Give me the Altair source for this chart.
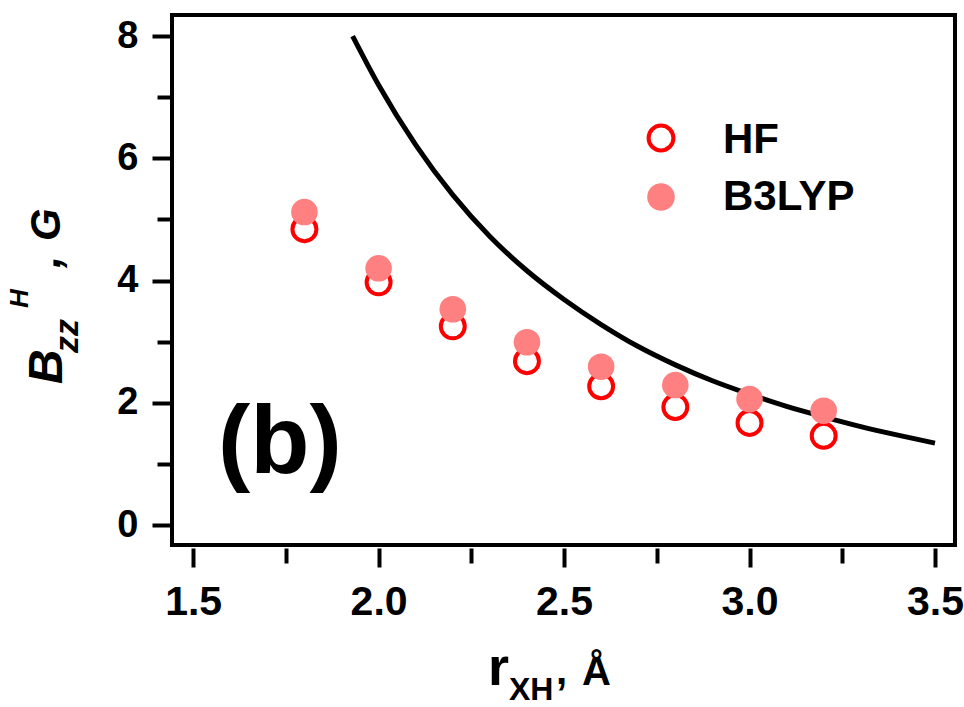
import altair as alt
import pandas as pd

# ---- data ----
r_points = [1.8, 2.0, 2.2, 2.4, 2.6, 2.8, 3.0, 3.2]
hf_values = [4.84, 3.97, 3.25, 2.68, 2.27, 1.93, 1.67, 1.46]
b3lyp_values = [5.12, 4.20, 3.53, 2.99, 2.59, 2.29, 2.06, 1.87]

curve_r = [1.93, 2.0, 2.1, 2.2, 2.3, 2.4, 2.5, 2.6, 2.7, 2.8, 2.9, 3.0, 3.1, 3.2, 3.3, 3.4, 3.5]
curve_b = [8.0, 7.2, 6.22, 5.4, 4.72, 4.16, 3.69, 3.28, 2.92, 2.62, 2.36, 2.14, 1.94, 1.77, 1.61, 1.47, 1.34]

x_ticks = [1.5, 1.75, 2.0, 2.25, 2.5, 2.75, 3.0, 3.25, 3.5]
y_ticks = [0, 1, 2, 3, 4, 5, 6, 7, 8]
series_names = ["HF", "B3LYP"]

W, H = 783, 530
SANS = "Liberation Sans"

hf_df = pd.DataFrame({"r": r_points, "B": hf_values})
b3_df = pd.DataFrame({"r": r_points, "B": b3lyp_values})
curve_df = pd.DataFrame({"r": curve_r, "B": curve_b})

x_scale = alt.Scale(domain=[1.443, 3.554], nice=False, zero=False)
y_scale = alt.Scale(domain=[-0.327, 8.344], nice=False, zero=False)

x_axis = alt.Axis(
    values=x_ticks,
    title="",
    domain=False,
    grid=False,
    offset=3,
    tickColor="black",
    tickWidth=4,
    tickSize={"condition": {"test": "abs(datum.value * 2 - round(datum.value * 2)) > 0.01", "value": 15}, "value": 19},
    labelExpr="abs(datum.value * 2 - round(datum.value * 2)) < 0.01 ? format(datum.value, '.1f') : ''",
    labelFont=SANS,
    labelFontSize=41,
    labelFontWeight="bold",
    labelColor="black",
    labelPadding=15,
    labelFlush=False,
    labelOverlap=False,
)
y_axis = alt.Axis(
    values=y_ticks,
    title="",
    domain=False,
    grid=False,
    tickColor="black",
    tickWidth=4,
    tickSize={"condition": {"test": "datum.value % 2 !== 0", "value": 15}, "value": 20},
    labelExpr="datum.value % 2 === 0 ? format(datum.value, 'd') : ''",
    labelFont=SANS,
    labelFontSize=38,
    labelFontWeight="bold",
    labelColor="black",
    labelPadding=14,
    labelFlush=False,
    labelOverlap=False,
)

curve = alt.Chart(curve_df).mark_line(color="black", strokeWidth=5, interpolate="monotone", clip=True).encode(
    x=alt.X("r:Q", scale=x_scale, axis=x_axis),
    y=alt.Y("B:Q", scale=y_scale, axis=y_axis),
)
hf = alt.Chart(hf_df).mark_point(shape="circle", filled=False, color="#FF0000", strokeWidth=4, size=573, opacity=1).encode(
    x=alt.X("r:Q", scale=x_scale), y=alt.Y("B:Q", scale=y_scale)
)
b3 = alt.Chart(b3_df).mark_point(shape="circle", filled=True, color="#FF8080", size=707, opacity=1).encode(
    x=alt.X("r:Q", scale=x_scale), y=alt.Y("B:Q", scale=y_scale)
)


def label(text, x, y, size, italic=False, font=SANS, angle=0):
    kw = dict(align="left", baseline="alphabetic", fontSize=size, fontWeight="bold",
              fontStyle="italic" if italic else "normal", font=font, color="black")
    if angle:
        kw["angle"] = angle
    return alt.Chart(pd.DataFrame({"t": [text]})).mark_text(**kw).encode(
        x=alt.value(x), y=alt.value(y), text="t:N"
    )


# legend (manual)
leg_hf = alt.Chart(pd.DataFrame({"s": [series_names[0]]})).mark_point(
    shape="circle", filled=False, color="#FF0000", strokeWidth=4, size=616, opacity=1
).encode(x=alt.value(489), y=alt.value(123))
leg_b3 = alt.Chart(pd.DataFrame({"s": [series_names[1]]})).mark_point(
    shape="circle", filled=True, color="#FF8080", size=760, opacity=1
).encode(x=alt.value(489), y=alt.value(182))

texts = [
    label(series_names[0], 551, 138, 42),
    label(series_names[1], 551, 195, 42),
    label("(b)", 46, 458, 97),
    # x title: r_XH, Å
    label("r", 316, 670, 54),
    label("XH", 337, 685, 32),
    label(",", 384, 669, 40),
    label("Å", 410, 670, 40),
    # y title: B_zz^H, G (rotated)
    label("B", -110, 369, 48, italic=True, angle=270),
    label("zz", -94, 338, 34, italic=True, angle=270),
    label("H", -144, 293, 26, italic=True, angle=270),
    label(",", -112, 253, 44, italic=True, angle=270),
    label("G", -112, 226, 42, italic=True, angle=270),
]

chart = alt.layer(curve, hf, b3, leg_hf, leg_b3, *texts).properties(
    width=W,
    height=H,
    autosize=alt.AutoSizeParams(type="none"),
    padding={"left": 172, "top": 15, "right": 9, "bottom": 162},
    background="white",
).configure_view(stroke="black", strokeWidth=4)

chart.save("out.html", embed_options={"renderer": "svg", "actions": False})
